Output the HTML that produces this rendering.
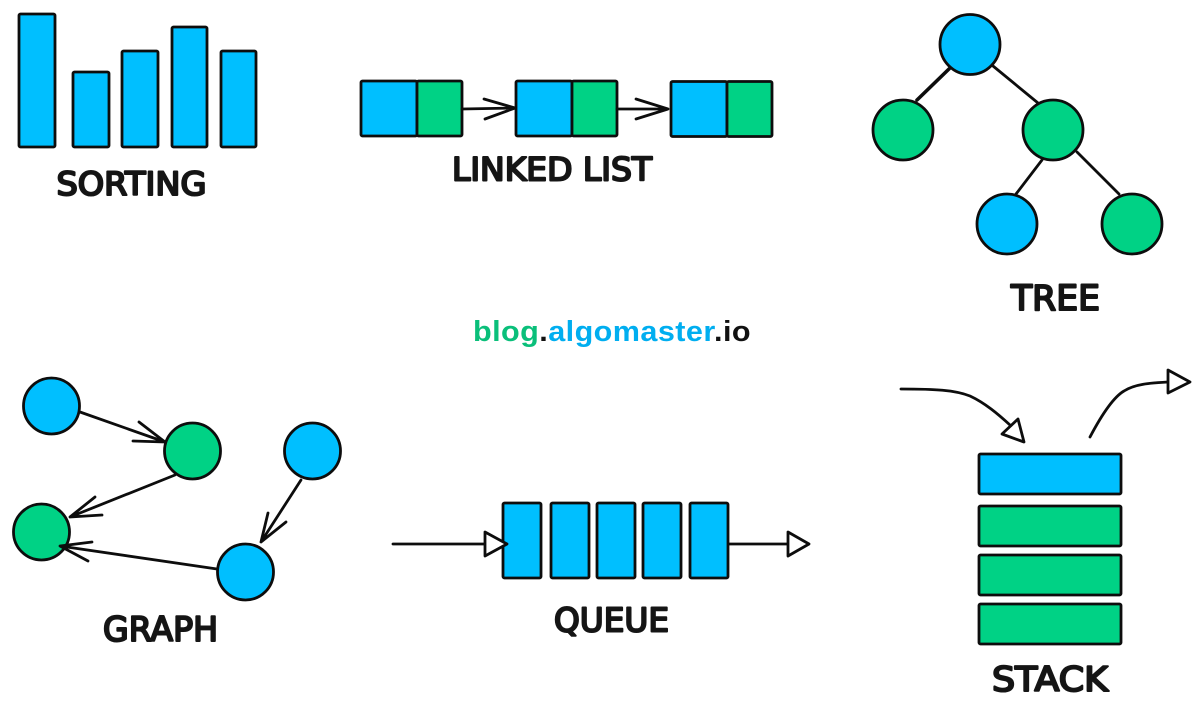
<!DOCTYPE html>
<html><head><meta charset="utf-8"><style>
html,body{margin:0;padding:0;background:#fff;width:1200px;height:716px;overflow:hidden}
svg{display:block}
.l{font-family:"DejaVu Sans","Liberation Sans",sans-serif;font-weight:normal;fill:#151515;stroke:#151515;stroke-width:2.1;stroke-linejoin:round;stroke-linecap:round}
</style></head><body>
<svg width="1200" height="716" viewBox="0 0 1200 716" xmlns="http://www.w3.org/2000/svg">
<g stroke="#0d0d0d" stroke-width="2.8" fill="#00bfff" stroke-linejoin="round" stroke-linecap="round">
<!-- sorting -->
<rect x="19" y="14" width="36" height="133" rx="1.5"/>
<rect x="73" y="72" width="36" height="75" rx="1.5"/>
<rect x="122" y="51" width="36" height="96" rx="1.5"/>
<rect x="172" y="27" width="35" height="120" rx="1.5"/>
<rect x="221" y="51" width="35" height="96" rx="1.5"/>
<!-- linked list -->
<rect x="361" y="81" width="56" height="55" rx="1.5"/>
<rect x="417" y="81" width="45" height="55" rx="1.5" fill="#00d285"/>
<rect x="516" y="81" width="56" height="55" rx="1.5"/>
<rect x="572" y="81" width="45" height="55" rx="1.5" fill="#00d285"/>
<rect x="671" y="81.5" width="56" height="55" rx="1.5"/>
<rect x="727" y="81.5" width="45" height="55" rx="1.5" fill="#00d285"/>
<path d="M462 109L515 108M484 99L515 108L485 119M617 109H668M636 99L668 109L636 119" fill="none"/>
<!-- tree -->
<path d="M950 68L917 100" fill="none" stroke-width="3.6"/>
<path d="M993 66L1038 103M1042 160L1016 194M1077 152L1119 194" fill="none"/>
<circle cx="970" cy="44.5" r="30"/>
<circle cx="903" cy="130" r="30" fill="#00d285"/>
<circle cx="1053" cy="130" r="30" fill="#00d285"/>
<circle cx="1007" cy="224" r="30"/>
<circle cx="1132" cy="224" r="30" fill="#00d285"/>
<!-- graph -->
<circle cx="51.5" cy="406" r="28"/>
<circle cx="192.5" cy="451" r="28" fill="#00d285"/>
<circle cx="312.5" cy="451" r="28"/>
<circle cx="41.5" cy="532" r="28" fill="#00d285"/>
<circle cx="245.5" cy="572" r="28"/>
<path d="M80 412L165 442M139 422L165 442L133 441M175 475L70 517M95 497L70 517L102 515M301 480L261 542M268 513L261 542L286 522M217 569L60 546M92 542L60 546L88 561" fill="none"/>
<!-- queue -->
<path d="M393 544H485M729 544H788" fill="none"/>
<rect x="503" y="503" width="38" height="75" rx="1.5"/>
<rect x="551" y="503" width="38" height="75" rx="1.5"/>
<rect x="597" y="503" width="38" height="75" rx="1.5"/>
<rect x="643" y="503" width="38" height="75" rx="1.5"/>
<rect x="690" y="503" width="38" height="75" rx="1.5"/>
<path d="M485 532L507 544L485 556ZM788 532L809 544L788 556Z" fill="#fff"/>
<!-- stack -->
<rect x="979" y="454" width="142" height="40" rx="1.5"/>
<rect x="979" y="506" width="142" height="40" rx="1.5" fill="#00d285"/>
<rect x="979" y="555" width="142" height="40" rx="1.5" fill="#00d285"/>
<rect x="979" y="604" width="142" height="40" rx="1.5" fill="#00d285"/>
<path d="M901 389C935 389 955 390 970 396C985 403 998 414 1010 425M1090 437C1100 418 1112 398 1124 391C1135 384 1150 383 1168 382" fill="none"/>
<path d="M1018 419L1024 442L1002 434ZM1168 370L1190 382L1168 393Z" fill="#fff"/>
</g>
<text class="l" x="56.500" y="195" style="font-size:32px" textLength="150" lengthAdjust="spacingAndGlyphs">SORTING</text>
<text class="l" x="452" y="180.500" style="font-size:32px" textLength="200" lengthAdjust="spacingAndGlyphs">LINKED LIST</text>
<text class="l" x="1011" y="310" style="font-size:35px" textLength="89" lengthAdjust="spacingAndGlyphs">TREE</text>
<text class="l" x="103" y="641" style="font-size:34px" textLength="115" lengthAdjust="spacingAndGlyphs">GRAPH</text>
<text class="l" x="554" y="631.500" style="font-size:33px" textLength="115" lengthAdjust="spacingAndGlyphs">QUEUE</text>
<text class="l" x="992" y="691" style="font-size:34px" textLength="116" lengthAdjust="spacingAndGlyphs">STACK</text>
<text x="473" y="341" textLength="278" lengthAdjust="spacingAndGlyphs" style="font-family:'Liberation Sans',sans-serif;font-weight:bold;font-size:29px;letter-spacing:.4px"><tspan fill="#0abf7a">blog</tspan><tspan fill="#111">.</tspan><tspan fill="#00aef0">algomaster</tspan><tspan fill="#111">.io</tspan></text>
</svg>
</body></html>
